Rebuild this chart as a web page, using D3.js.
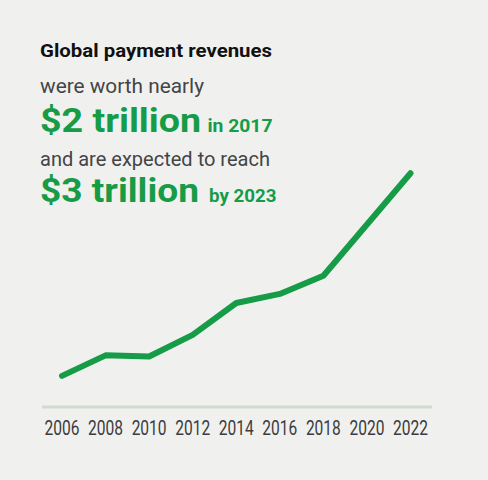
<!DOCTYPE html>
<meta charset="utf-8">
<style>
    body { margin: 0; background: #f0f1ef; }
    svg { display: block; font-family: Roboto, "Noto Sans", sans-serif; }
    .head { fill: #111; font-weight: 700; font-size: 18px; }
    .grey { fill: #444446; font-size: 20px; }
    .big { fill: #169b47; font-weight: 700; font-size: 32.5px; }
    .small { fill: #169b47; font-weight: 700; font-size: 18px; }
    .line { fill: none; stroke: #169b47; stroke-width: 6; stroke-linecap: round; stroke-linejoin: round; }
    .axis-line { stroke: #d2dbd2; stroke-width: 3; }
    .tick-label { fill: #3c3c3e; font-size: 19.5px; text-anchor: middle; }
</style>
<body></body>
<script src="https://cdn.jsdelivr.net/npm/d3@7"></script>
<script>
    var width = 488, height = 480;

    // data (trillions USD)
    var years = [2006, 2008, 2010, 2012, 2014, 2016, 2018, 2022];
    var revenue = [1.12, 1.30, 1.29, 1.48, 1.76, 1.84, 2.0, 2.9];
    var tickYears = [2006, 2008, 2010, 2012, 2014, 2016, 2018, 2020, 2022];

    var title = "Global payment revenues";
    var line1 = "were worth nearly";
    var big1 = ["$2 trillion", "in 2017"];
    var line2 = "and are expected to reach";
    var big2 = ["$3 trillion", "by 2023"];

    var x = d3.scaleLinear().domain([2006, 2022]).range([62, 410.5]);
    var y = d3.scaleLinear().domain([1, 3]).range([389.5, 161.9]);

    var svg = d3.select("body").append("svg")
        .attr("width", width)
        .attr("height", height);

    svg.append("rect").attr("width", width).attr("height", height).attr("fill", "#f0f1ef");

    // headline block; the original face is wider than Roboto, so stretch to fit
    function label(cls, tx, ty, str, len) {
        return svg.append("text")
            .attr("class", cls)
            .attr("x", tx).attr("y", ty)
            .attr("textLength", len)
            .attr("lengthAdjust", "spacingAndGlyphs")
            .text(str);
    }

    label("head", 40, 57, title, 232);
    label("grey", 40, 93.3, line1, 164);
    label("big", 40, 131.5, big1[0], 161);
    label("small", 207.5, 131.5, big1[1], 65);
    label("grey", 40, 166, line2, 230);
    label("big", 40, 202, big2[0], 159);
    label("small", 209, 202, big2[1], 67.5);

    // x axis: baseline rule + year labels
    svg.append("line")
        .attr("class", "axis-line")
        .attr("x1", 42).attr("x2", 432)
        .attr("y1", 407).attr("y2", 407);

    svg.selectAll(".tick-label")
        .data(tickYears)
        .enter().append("text")
        .attr("class", "tick-label")
        .attr("x", function(d) { return x(d); })
        .attr("y", 435)
        .attr("textLength", 35)
        .attr("lengthAdjust", "spacingAndGlyphs")
        .text(function(d) { return d; });

    var line = d3.line()
        .x(function(d, i) { return x(years[i]); })
        .y(function(d) { return y(d); });

    svg.append("path")
        .datum(revenue)
        .attr("class", "line")
        .attr("d", line);
</script>
